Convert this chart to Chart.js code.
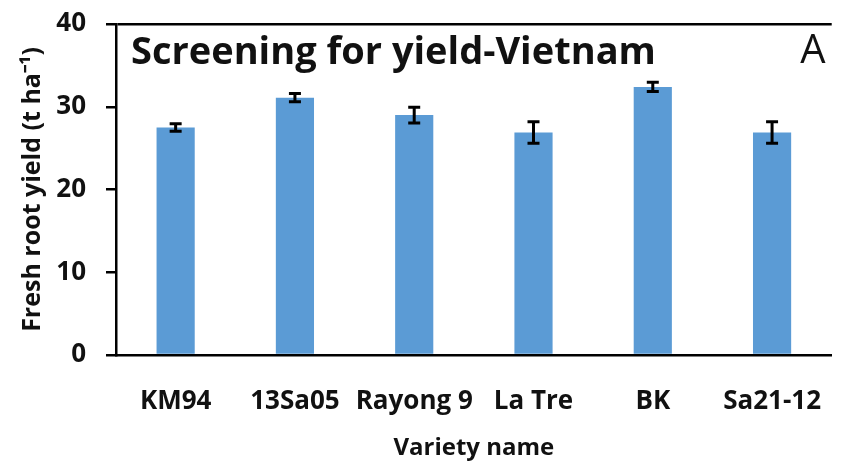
<!DOCTYPE html>
<html>
<head>
<meta charset="utf-8">
<script src="https://cdn.jsdelivr.net/npm/chart.js@4"></script>
<style>
  html, body { margin: 0; padding: 0; background: #fff; overflow: hidden; }
  #wrap { width: 852px; height: 465px; }
</style>
</head>
<body>
<div id="wrap"><canvas id="yieldChart"></canvas></div>
<script>
// data
const varieties = ['KM94', '13Sa05', 'Rayong 9', 'La Tre', 'BK', 'Sa21-12'];
const yieldMeans = [27.5, 31.1, 29.0, 26.9, 32.4, 26.9];
const yieldErrors = [0.45, 0.5, 0.95, 1.3, 0.55, 1.3];
const yTicks = [0, 10, 20, 30, 40];

Chart.defaults.font.family = "'Open Sans', sans-serif";
Chart.defaults.color = '#000';

// error bars on top of each bar
const errorBars = {
    id: 'errorBars',
    afterDatasetsDraw(chart) {
        const ctx = chart.ctx;
        const y = chart.scales.y;
        const meta = chart.getDatasetMeta(0);
        ctx.save();
        ctx.strokeStyle = '#000';
        ctx.lineWidth = 3;
        meta.data.forEach((bar, i) => {
            const top = y.getPixelForValue(yieldMeans[i] + yieldErrors[i]);
            const bottom = y.getPixelForValue(yieldMeans[i] - yieldErrors[i]);
            ctx.beginPath();
            ctx.moveTo(bar.x, top);
            ctx.lineTo(bar.x, bottom);
            ctx.moveTo(bar.x - 6, top);
            ctx.lineTo(bar.x + 6, top);
            ctx.moveTo(bar.x - 6, bottom);
            ctx.lineTo(bar.x + 6, bottom);
            ctx.stroke();
        });
        ctx.restore();
    }
};

// panel title and letter inside the plot box
const panelText = {
    id: 'panelText',
    afterDraw(chart) {
        const ctx = chart.ctx;
        const area = chart.chartArea;
        ctx.save();
        ctx.fillStyle = '#111';
        ctx.textBaseline = 'middle';
        ctx.textAlign = 'left';
        ctx.font = "bold 38px 'Open Sans'";
        ctx.fillText('Screening for yield-Vietnam', area.left + 15, area.top + 29);
        ctx.textAlign = 'center';
        ctx.font = "40px 'Open Sans'";
        ctx.fillText('A', 813, area.top + 28);
        ctx.restore();
    }
};

new Chart(document.getElementById('yieldChart'), {
    type: 'bar',
    data: {
        labels: varieties,
        datasets: [{
            data: yieldMeans,
            backgroundColor: '#5B9BD5',
            borderWidth: 0,
            categoryPercentage: 1,
            barPercentage: 0.32
        }]
    },
    options: {
        responsive: true,
        maintainAspectRatio: false,
        animation: false,
        layout: { padding: { top: 24, right: 0, left: 0, bottom: 0 } },
        plugins: {
            legend: { display: false },
            tooltip: { enabled: false }
        },
        scales: {
            x: {
                afterFit(scale) { scale.height = 110; },
                grid: { display: false, drawTicks: false },
                border: { display: true, color: '#000', width: 2.5 },
                ticks: {
                    font: { size: 26, weight: 'bold' },
                    padding: 31,
                    color: '#111',
                    maxRotation: 0,
                    minRotation: 0,
                    autoSkip: false
                },
                title: {
                    display: true,
                    text: 'Variety name',
                    font: { size: 24, weight: 'bold' },
                    color: '#111',
                    padding: { top: 0, bottom: 2 }
                }
            },
            y: {
                min: 0,
                max: 40,
                afterFit(scale) { scale.width = 116; },
                afterBuildTicks(scale) { scale.ticks = yTicks.map(v => ({ value: v })); },
                grid: {
                    color: c => (c.tick && c.tick.value === 40 ? '#000' : 'transparent'),
                    lineWidth: 2.5,
                    tickColor: '#000',
                    tickLength: 10
                },
                border: { display: true, color: '#000', width: 2.5 },
                // small lineHeight keeps the label overhang from pushing the plot down
                ticks: { font: { size: 26, weight: 'bold', lineHeight: 0.3 }, padding: 20, color: '#111' },
                title: {
                    display: true,
                    text: 'Fresh root yield (t ha⁻¹)',
                    font: { size: 25, weight: 'bold' },
                    color: '#111',
                    padding: { top: 18, bottom: 0 }
                }
            }
        }
    },
    plugins: [errorBars, panelText]
});
</script>
</body>
</html>
